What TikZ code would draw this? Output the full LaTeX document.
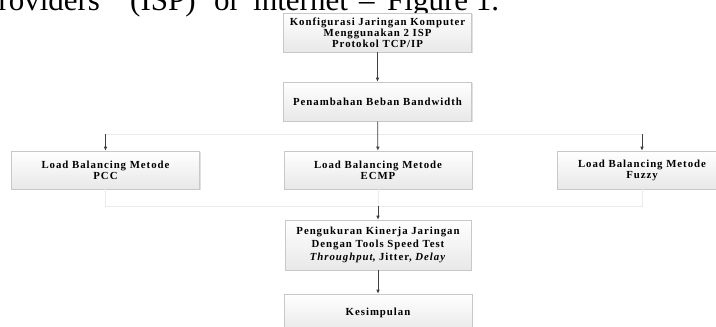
\documentclass[tikz,border=0pt]{standalone}
\usepackage{fontspec}
\setmainfont{Liberation Serif}
\newfontfamily\boxfont{Liberation Serif}[LetterSpace=9]
\usetikzlibrary{arrows.meta,shadows}
\definecolor{boxline}{HTML}{C8C8C8}
\definecolor{boxbot}{HTML}{E8E8E8}
\definecolor{arrowc}{HTML}{3F3F3F}
\definecolor{faintc}{HTML}{EAEAEA}
\begin{document}
\begin{tikzpicture}[x=1pt,y=-1pt,
  stepbox/.style={draw=boxline, line width=0.6pt, top color=white, bottom color=boxbot,
    minimum width=188pt, minimum height=39pt, align=center, inner sep=0pt,
    font=\boxfont\bfseries\fontsize{10.8}{11}\selectfont,
    drop shadow={shadow xshift=1pt, shadow yshift=-1pt, fill=black!20, opacity=0.6}},
  arr/.style={draw=arrowc, line width=0.7pt, -{Latex[length=4pt,width=3.6pt]}},
  faint/.style={draw=faintc, line width=0.8pt},
  head/.style={anchor=base west, inner sep=0pt, font=\fontsize{31}{31}\selectfont}]
\useasboundingbox (0,0) rectangle (716,327);
\clip (0,0) rectangle (716,327);

% header text (cut at the top)
\node[head] (h1) at (-19,10.5) {Providers};
\node[head] (h2) at (130,10.5) {(ISP)};
\node[head] (h3) at (214,10.5) {or};
\node[head] (h4) at (253,10.5) {internet};
\node[head] (h5) at (359,10.5) {–};
\node[head] (h6) at (387,10.5) {Figure 1.};

% boxes
\node[stepbox] (konf) at (377.5,32.5) {Konfigurasi Jaringan Komputer\\Menggunakan 2 ISP\\Protokol TCP/IP};
\node[stepbox] (beban) at (377.5,101.5) {Penambahan Beban Bandwidth};
\node[stepbox, minimum height=38pt] (pcc) at (105.5,170) {Load Balancing Metode\\PCC};
\node[stepbox, minimum height=38pt] (ecmp) at (378,170) {Load Balancing Metode\\ECMP};
\node[stepbox, minimum height=38pt, minimum width=170pt] (fuzzy) at (642,170) {Load Balancing Metode\\Fuzzy};
\node[stepbox, minimum width=186pt, minimum height=50pt, font=\boxfont\bfseries\fontsize{10.8}{13}\selectfont] (ukur) at (378,245) {Pengukuran Kinerja Jaringan\\Dengan Tools Speed Test\\\textit{Throughput}, Jitter, \textit{Delay}};
\node[stepbox, minimum height=38pt] (simp) at (378,313) {Kesimpulan};

% connectors
\coordinate (busTop) at (0,134);
\coordinate (busBot) at (0,206);
\draw[arr] (konf) -- (beban);
\draw[faint] (pcc.north |- busTop) -- (fuzzy.north |- busTop);
\draw[arr] (pcc.north |- busTop) -- (pcc.north);
\draw[arr] (fuzzy.north |- busTop) -- (fuzzy.north);
\draw[arr] (beban) -- (ecmp);
\draw[faint] (pcc.south) -- (pcc.south |- busBot) -- (fuzzy.south |- busBot) -- (fuzzy.south);
\draw[faint] (ecmp.south) -- (ecmp.south |- busBot);
\draw[arr] (ecmp.south |- busBot) -- (ukur.north);
\draw[arr] (ukur) -- (simp);
\end{tikzpicture}
\end{document}
